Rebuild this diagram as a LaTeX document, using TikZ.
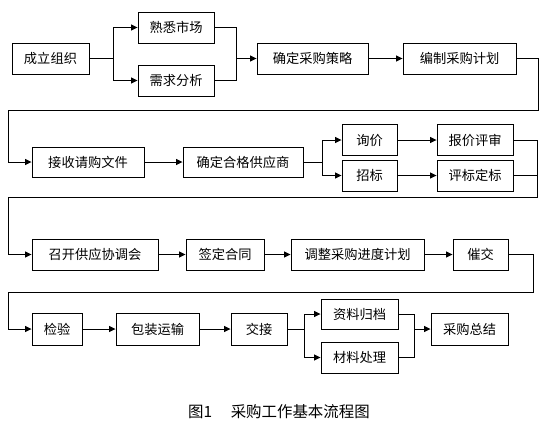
\documentclass[tikz,border=0pt]{standalone}
\usepackage{fontspec}
\setmainfont{Noto Sans CJK SC}
\usetikzlibrary{arrows.meta}
\begin{document}
\begin{tikzpicture}[x=1bp,y=-1bp,
  box/.style={draw,line width=0.9bp,inner sep=0pt,minimum height=31bp,font=\fontsize{13.3}{16}\selectfont},
  ln/.style={line width=0.9bp},
  arr/.style={line width=0.9bp,-{Triangle[length=6.5bp,width=6bp]}}]
\useasboundingbox (0,0) rectangle (545,427);
% Row 1
\node[box,minimum width=77bp] (n1) at (50.5,58.5) {成立组织};
\node[box,minimum width=76bp] (n2) at (176,27.5) {熟悉市场};
\node[box,minimum width=76bp] (n3) at (176,80.5) {需求分析};
\node[box,minimum width=111bp] (n4) at (312.5,58.5) {确定采购策略};
\node[box,minimum width=113bp] (n5) at (459.5,58.5) {编制采购计划};
% Row 2
\node[box,minimum width=112bp,minimum height=30bp] (n6) at (88,162) {接收请购文件};
\node[box,minimum width=120bp,minimum height=30bp] (n7) at (243,162) {确定合格供应商};
\node[box,minimum width=55bp] (n8) at (369.5,140) {询价};
\node[box,minimum width=55bp] (n9) at (369.5,175.5) {招标};
\node[box,minimum width=76bp] (n10) at (475,140) {报价评审};
\node[box,minimum width=76bp] (n11) at (475,175.5) {评标定标};
% Row 3
\node[box,minimum width=126bp] (n12) at (95,254.5) {召开供应协调会};
\node[box,minimum width=78bp] (n13) at (225,254.5) {签定合同};
\node[box,minimum width=133bp] (n14) at (357.5,254.5) {调整采购进度计划};
\node[box,minimum width=55bp] (n15) at (480.5,254.5) {催交};
% Row 4
\node[box,minimum width=50bp,minimum height=32bp] (n16) at (57,329) {检验};
\node[box,minimum width=83bp,minimum height=32bp] (n17) at (157.5,329) {包装运输};
\node[box,minimum width=56bp,minimum height=32bp] (n18) at (259,329) {交接};
\node[box,minimum width=77bp,minimum height=30bp] (n19) at (359.5,314) {资料归档};
\node[box,minimum width=77bp] (n20) at (359.5,357.5) {材料处理};
\node[box,minimum width=77bp,minimum height=32bp] (n21) at (469.5,329) {采购总结};
% caption
\node[font=\fontsize{15.5}{18}\selectfont,inner sep=0pt] (cap) at (279,412) {图1\hspace{1.2em}采购工作基本流程图};
% coordinates
\coordinate (s1) at (113,58.5);
\coordinate (m1) at (236,58.5);
\coordinate (r1) at (538,110);
\coordinate (l1) at (8,110);
\coordinate (s2) at (322,162);
\coordinate (r2) at (537,197);
\coordinate (l2) at (8,197);
\coordinate (r3) at (533,292);
\coordinate (l3) at (8,292);
\coordinate (s3) at (304,329);
\coordinate (m2) at (414,329);
% connectors row 1
\draw[ln] (n1) -- (s1);
\draw[arr] (s1) |- (n2);
\draw[arr] (s1) |- (n3);
\draw[ln] (n2) -| (m1);
\draw[ln] (n3) -| (m1);
\draw[arr] (m1) -- (n4);
\draw[arr] (n4) -- (n5);
\draw[arr] (n5) -| (r1) -- (l1) |- (n6);
% row 2
\draw[arr] (n6) -- (n7);
\draw[ln] (n7) -- (s2);
\draw[arr] (s2) |- (n8);
\draw[arr] (s2) |- (n9);
\draw[arr] (n8) -- (n10);
\draw[arr] (n9) -- (n11);
\draw[ln] (n11) -- (n11 -| r2);
\draw[arr] (n10) -| (r2) -- (l2) |- (n12);
% row 3
\draw[arr] (n12) -- (n13);
\draw[arr] (n13) -- (n14);
\draw[arr] (n14) -- (n15);
\draw[arr] (n15) -| (r3) -- (l3) |- (n16);
% row 4
\draw[arr] (n16) -- (n17);
\draw[arr] (n17) -- (n18);
\draw[ln] (n18) -- (s3);
\draw[arr] (s3) |- (n19);
\draw[arr] (s3) |- (n20);
\draw[ln] (n19) -| (m2);
\draw[ln] (n20) -| (m2);
\draw[arr] (m2) -- (n21);
\end{tikzpicture}
\end{document}
